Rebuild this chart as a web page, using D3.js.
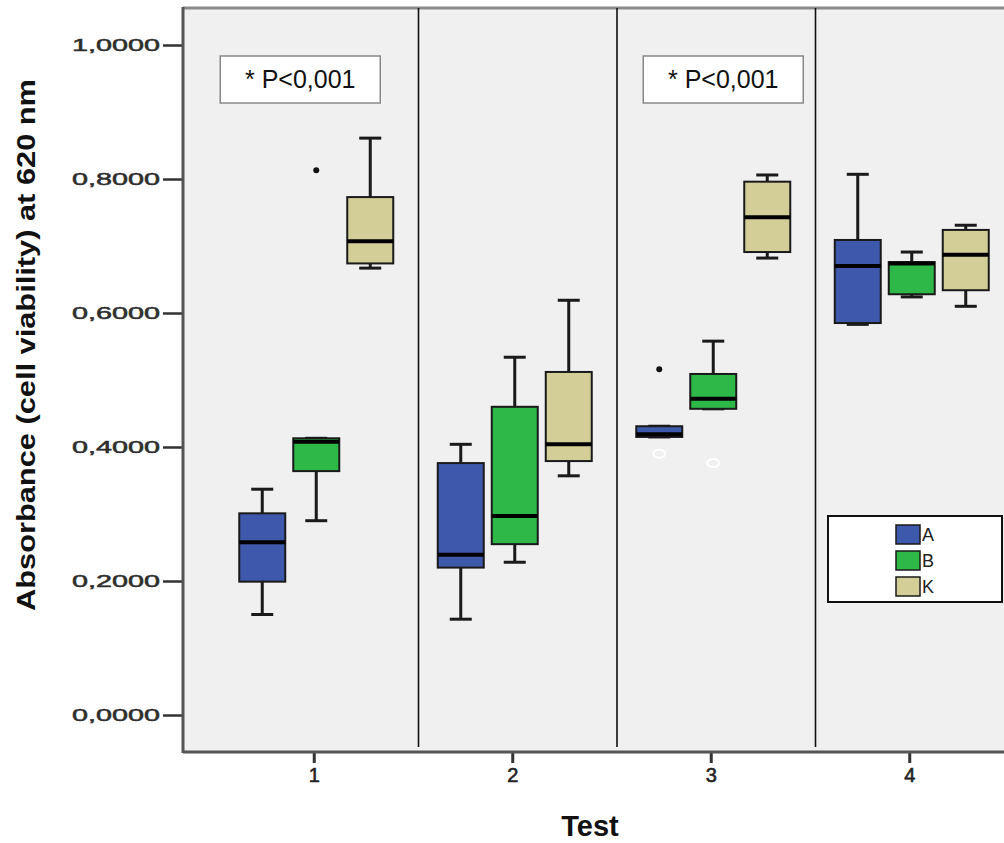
<!DOCTYPE html>
<html lang="en">
<head>
<meta charset="UTF-8">
<title>Absorbance</title>
<script src="https://cdn.jsdelivr.net/npm/d3@7"></script>
<style>
  body { margin: 0; background: #fff; }
  svg { display: block; font-family: "Liberation Sans", Arial, sans-serif; }
</style>
</head>
<body>
<div id="chart"></div>
<script>
// categories
const tests = ["1", "2", "3", "4"];
const groups = ["A", "B", "K"];
const yTicks = [0, 0.2, 0.4, 0.6, 0.8, 1.0];

// box stats per test: [whisker low, q1, median, q3, whisker high]
const statsA = [
  [0.150, 0.199, 0.258, 0.301, 0.337],
  [0.143, 0.220, 0.239, 0.376, 0.404],
  [0.415, 0.415, 0.419, 0.431, 0.431],
  [0.583, 0.585, 0.670, 0.709, 0.807]
];
const statsB = [
  [0.290, 0.364, 0.408, 0.413, 0.413],
  [0.228, 0.255, 0.297, 0.460, 0.534],
  [0.457, 0.457, 0.472, 0.509, 0.558],
  [0.624, 0.628, 0.674, 0.676, 0.691]
];
const statsK = [
  [0.667, 0.674, 0.707, 0.773, 0.861],
  [0.357, 0.379, 0.404, 0.512, 0.619],
  [0.682, 0.691, 0.743, 0.796, 0.806],
  [0.610, 0.634, 0.687, 0.724, 0.731]
];

// outliers
const outTest = ["1", "3", "3", "3"];
const outGroup = ["B", "A", "A", "B"];
const outValue = [0.813, 0.516, 0.390, 0.376];
const outKind = ["dot", "dot", "circle", "circle"];

// annotations
const noteTests = ["1", "3"];
const noteText = "* P<0,001";

const colors = { A: "#3e58ac", B: "#2eb848", K: "#d3ce97" };

const W = 1004, H = 843;
const plotL = 183, plotT = 8, plotB = 752, plotR = 1012;

const svg = d3.select("#chart").append("svg")
  .attr("width", W).attr("height", H);

const x = d3.scaleBand().domain(tests).range([217, 1011]);
const xs = d3.scaleBand().domain(groups).range([-81, 81]);
const y = d3.scaleLinear().domain([0, 1]).range([715, 45]);
const boxW = 46;

// plot background
svg.append("rect")
  .attr("x", plotL).attr("y", plotT)
  .attr("width", plotR - plotL).attr("height", plotB - plotT)
  .attr("fill", "#f0f0f0");
svg.append("line")
  .attr("x1", plotL).attr("x2", plotR).attr("y1", plotT).attr("y2", plotT)
  .attr("stroke", "#8a8a8a").attr("stroke-width", 3);

// separators between tests
svg.selectAll(".sep").data(tests.slice(0, -1)).enter().append("line")
  .attr("class", "sep")
  .attr("x1", d => x(d) + x.step() + 3).attr("x2", d => x(d) + x.step() + 3)
  .attr("y1", plotT).attr("y2", 747)
  .attr("stroke", "#111").attr("stroke-width", 1.6);

// p-value notes (box centre shifted from the test centre)
const noteShift = [-16, 10];
noteTests.forEach((t, i) => {
  const cx = x(t) + x.bandwidth() / 2 + noteShift[i];
  svg.append("rect")
    .attr("x", cx - 80).attr("y", 56).attr("width", 160).attr("height", 47)
    .attr("fill", "#fff").attr("stroke", "#888").attr("stroke-width", 1.5);
  svg.append("text")
    .attr("x", cx).attr("y", 88)
    .attr("text-anchor", "middle")
    .style("font-size", "25px").attr("fill", "#111")
    .text(noteText);
});

// boxes
const allStats = { A: statsA, B: statsB, K: statsK };
groups.forEach(g => {
  allStats[g].forEach((s, i) => {
    const cx = x(tests[i]) + x.bandwidth() / 2 + xs(g) + xs.bandwidth() / 2;
    const [lo, q1, med, q3, hi] = s;
    const gg = svg.append("g");
    // whiskers
    [[q3, hi], [lo, q1]].forEach(([a, b]) => {
      if (b - a > 0.002) {
        gg.append("line")
          .attr("x1", cx).attr("x2", cx).attr("y1", y(a)).attr("y2", y(b))
          .attr("stroke", "#1a1a1a").attr("stroke-width", 3);
      }
    });
    [lo, hi].forEach(v => {
      gg.append("line")
        .attr("x1", cx - 11).attr("x2", cx + 11).attr("y1", y(v)).attr("y2", y(v))
        .attr("stroke", "#1a1a1a").attr("stroke-width", 3);
    });
    gg.append("rect")
      .attr("x", cx - boxW / 2).attr("y", y(q3))
      .attr("width", boxW).attr("height", Math.max(y(q1) - y(q3), 2))
      .attr("fill", colors[g]).attr("stroke", "#1a1a1a").attr("stroke-width", 2);
    gg.append("line")
      .attr("x1", cx - boxW / 2).attr("x2", cx + boxW / 2)
      .attr("y1", y(med)).attr("y2", y(med))
      .attr("stroke", "#000").attr("stroke-width", 4);
  });
});

// outliers
outValue.forEach((v, i) => {
  const cx = x(outTest[i]) + x.bandwidth() / 2 + xs(outGroup[i]) + xs.bandwidth() / 2;
  if (outKind[i] === "dot") {
    svg.append("circle").attr("cx", cx).attr("cy", y(v)).attr("r", 3)
      .attr("fill", "#111");
  } else {
    svg.append("ellipse").attr("cx", cx).attr("cy", y(v)).attr("rx", 6).attr("ry", 4)
      .attr("fill", "none").attr("stroke", "#fff").attr("stroke-width", 2);
  }
});

// y axis
const yAxis = svg.append("g")
  .attr("transform", `translate(${plotL},0)`)
  .call(d3.axisLeft(y).tickValues(yTicks).tickSize(20).tickPadding(3)
    .tickFormat(d => d3.format(".4f")(d).replace(".", ",")));
yAxis.select(".domain").remove();
yAxis.selectAll(".tick line").attr("stroke", "#333").attr("stroke-width", 2.5);
yAxis.selectAll(".tick text")
  .style("font-size", "17px").attr("fill", "#2e2e2e")
  .attr("stroke", "#2e2e2e").attr("stroke-width", 0.5)
  .style("font-family", "'Liberation Sans', Arial, sans-serif")
  .attr("textLength", 88).attr("lengthAdjust", "spacingAndGlyphs");
svg.append("line")
  .attr("x1", plotL).attr("x2", plotL).attr("y1", plotT - 1).attr("y2", plotB + 1)
  .attr("stroke", "#555").attr("stroke-width", 3);

// x axis
const xAxis = svg.append("g")
  .attr("transform", `translate(-2,${plotB})`)
  .call(d3.axisBottom(x).tickSize(11).tickPadding(5));
xAxis.select(".domain").remove();
xAxis.selectAll(".tick line").attr("stroke", "#333").attr("stroke-width", 3);
xAxis.selectAll(".tick text")
  .style("font-size", "20px").attr("fill", "#222")
  .attr("stroke", "#222").attr("stroke-width", 0.6)
  .style("font-family", "'Liberation Sans', Arial, sans-serif");
svg.append("line")
  .attr("x1", plotL).attr("x2", plotR).attr("y1", plotB).attr("y2", plotB)
  .attr("stroke", "#555").attr("stroke-width", 3);

// legend
const lg = svg.append("g").attr("transform", "translate(828,516)");
lg.append("rect").attr("width", 174).attr("height", 86)
  .attr("fill", "#fff").attr("stroke", "#111").attr("stroke-width", 2);
groups.forEach((g, i) => {
  lg.append("rect")
    .attr("x", 68).attr("y", 9 + i * 26).attr("width", 24).attr("height", 19)
    .attr("fill", colors[g]).attr("stroke", "#1a1a1a").attr("stroke-width", 1.5);
  lg.append("text")
    .attr("x", 94).attr("y", 25 + i * 26)
    .style("font-size", "18px").attr("fill", "#222")
    .text(g);
});

// titles
svg.append("text")
  .attr("x", 590).attr("y", 836)
  .attr("text-anchor", "middle")
  .style("font-size", "29px").attr("font-weight", "bold").attr("fill", "#111")
  .text("Test");
svg.append("text")
  .attr("transform", "translate(35,345) rotate(-90)")
  .attr("text-anchor", "middle")
  .style("font-size", "26px").attr("font-weight", "bold").attr("fill", "#111")
  .attr("textLength", 532).attr("lengthAdjust", "spacingAndGlyphs")
  .text("Absorbance (cell viability) at 620 nm");
</script>
</body>
</html>
